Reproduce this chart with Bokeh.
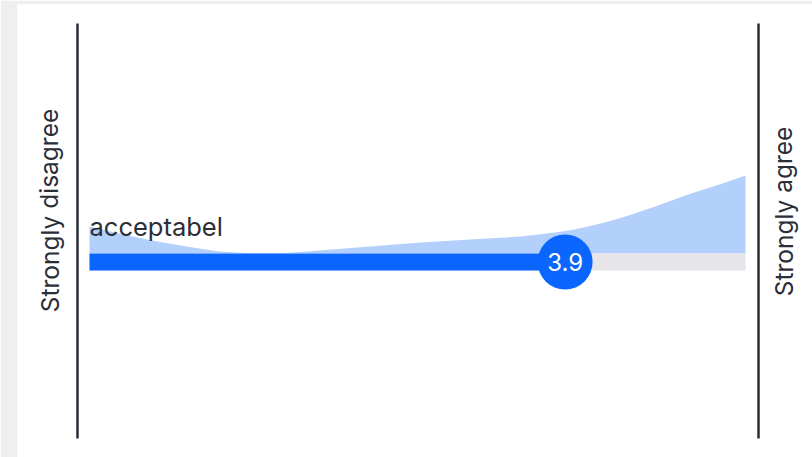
from bokeh.plotting import figure
from bokeh.models import Range1d
from bokeh.embed import file_html
from bokeh.resources import INLINE
from bokeh.core.properties import value

# ---- data ----
statement = "acceptabel"
scale_min, scale_max = 1, 5
mean_value = 3.9
mean_label = "3.9"
left_label = "Strongly disagree"
right_label = "Strongly agree"
# response distribution (position on 1-5 scale, relative density height)
dist_x = [1.0, 1.18, 1.38, 1.59, 1.79, 1.95, 2.2, 2.4, 2.71, 3.02, 3.32,
          3.63, 3.84, 3.94, 4.04, 4.14, 4.25, 4.45, 4.65, 4.86, 5.0]
dist_h = [27, 20, 13, 7, 2, 0.5, 0.5, 3, 7, 11, 14, 17, 21, 23.5, 27, 31, 36, 47, 59, 70, 78]

PX = 164.0  # pixels per scale unit
FONT = "Inter"
DARK = "#2b2e37"
BLUE = "#0a66ff"
LIGHT = "#b2d0fb"
TRACK = "#e6e6ea"

p = figure(width=812, height=457, output_backend="svg", toolbar_location=None,
           x_range=Range1d(1 - 72 / PX, 5 + 67 / PX), y_range=Range1d(-204, 249),
           min_border_left=17, min_border_right=0, min_border_top=4, min_border_bottom=0,
           x_axis_type=None, y_axis_type=None)
p.grid.visible = False
p.outline_line_color = None
p.background_fill_color = "white"
p.border_fill_color = "#f0eeee"

bar_h = 17
# distribution area
p.varea(x=dist_x, y1=[0] * len(dist_x), y2=dist_h, fill_color=LIGHT)
# track and value bar
p.quad(left=[scale_min], right=[scale_max], bottom=[-bar_h], top=[0], fill_color=TRACK, line_color=None)
p.quad(left=[scale_min], right=[mean_value], bottom=[-bar_h], top=[0], fill_color=BLUE, line_color=None)
# end lines
p.segment(x0=[scale_min - 12 / PX, scale_max + 13 / PX], x1=[scale_min - 12 / PX, scale_max + 13 / PX],
          y0=[-185, -185], y1=[230, 230], line_color=DARK, line_width=2.5)
# mean marker
p.scatter(x=[mean_value], y=[-bar_h / 2], size=55, fill_color=BLUE, line_color=None)
p.text(x=[mean_value], y=[-bar_h / 2], text=[mean_label], text_color="white",
       text_font=value(FONT), text_font_size="24px", text_align="center", text_baseline="middle")
# statement label
p.text(x=[scale_min], y=[27], text=[statement], text_color=DARK, text_font=value(FONT),
       text_font_size="25.5px", text_align="left", text_baseline="alphabetic")
# end labels
p.text(x=[scale_min - 40 / PX], y=[43], text=[left_label], angle=1.5708, text_color=DARK,
       text_font=value(FONT), text_font_size="24.5px", text_align="center", text_baseline="alphabetic")
p.text(x=[scale_max + 38 / PX], y=[42], text=[right_label], angle=1.5708, text_color=DARK,
       text_font=value(FONT), text_font_size="24.5px", text_align="center", text_baseline="alphabetic")

open("out.html", "w").write(file_html(p, INLINE))
